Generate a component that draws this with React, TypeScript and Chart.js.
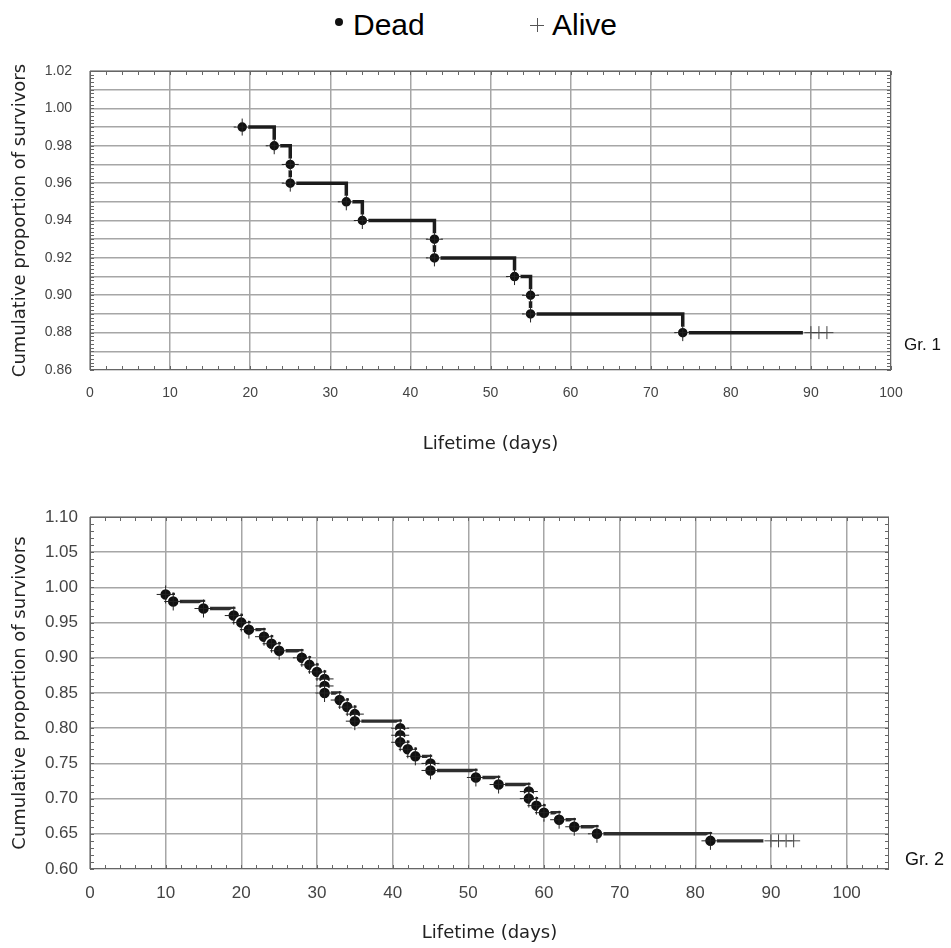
import React, { useEffect, useRef } from 'react';
import { Chart, registerables } from 'chart.js';

Chart.register(...registerables);

// ---------- Data ----------
// Group 1
const gr1DeathDays = [19, 23, 25, 25, 32, 34, 43, 43, 53, 55, 55, 74];
const gr1DeathSurvival = [0.99, 0.98, 0.97, 0.96, 0.95, 0.94, 0.93, 0.92, 0.91, 0.9, 0.89, 0.88];
const gr1CensoredDays = [90, 91, 92];
const gr1CurveEndDay = 89;

// Group 2
const gr2DeathDays = [10, 11, 15, 19, 20, 21, 23, 24, 25, 28, 29, 30, 31, 31, 31, 33, 34, 35, 35, 41, 41, 41, 42, 43, 45, 45, 51, 54, 58, 58, 59, 60, 62, 64, 67, 82];
const gr2DeathSurvival = [0.99, 0.98, 0.97, 0.96, 0.95, 0.94, 0.93, 0.92, 0.91, 0.9, 0.89, 0.88, 0.87, 0.86, 0.85, 0.84, 0.83, 0.82, 0.81, 0.8, 0.79, 0.78, 0.77, 0.76, 0.75, 0.74, 0.73, 0.72, 0.71, 0.7, 0.69, 0.68, 0.67, 0.66, 0.65, 0.64];
const gr2CensoredDays = [90, 91, 92, 93];
const gr2CurveEndDay = 89;

const legendLabels = ['Dead', 'Alive'];
const groupLabels = ['Gr. 1', 'Gr. 2'];
const xAxisTitle = 'Lifetime (days)';
const yAxisTitle = 'Cumulative proportion of survivors';

// ---------- Plugin: frame + small inward minor ticks ----------
const framePlugin: any = {
  id: 'frame',
  beforeDatasetsDraw(chart: any, _args: any, opts: any) {
    const { ctx, chartArea: a, scales } = chart;
    const x = scales.x;
    const y = scales.y;
    ctx.save();
    ctx.strokeStyle = opts.color || '#666';
    ctx.lineWidth = 1;
    ctx.strokeRect(a.left + 0.5, a.top + 0.5, a.right - a.left - 1, a.bottom - a.top - 1);
    ctx.beginPath();
    const L = opts.len || 4;
    const nx = Math.floor((x.max - x.min) / opts.xStep + 1e-6);
    for (let i = 0; i <= nx; i++) {
      const v = x.min + i * opts.xStep;
      const px = Math.round(x.getPixelForValue(v)) + 0.5;
      ctx.moveTo(px, a.bottom);
      ctx.lineTo(px, a.bottom - L);
      ctx.moveTo(px, a.top);
      ctx.lineTo(px, a.top + L);
    }
    const ny = Math.floor((y.max - y.min) / opts.yStep + 1e-6);
    for (let i = 0; i <= ny; i++) {
      const v = y.min + i * opts.yStep;
      const py = Math.round(y.getPixelForValue(v)) + 0.5;
      ctx.moveTo(a.left, py);
      ctx.lineTo(a.left + L, py);
      ctx.moveTo(a.right, py);
      ctx.lineTo(a.right - L, py);
    }
    ctx.stroke();
    ctx.restore();
  },
};

type Params = {
  deathDays: number[];
  deathSurv: number[];
  censoredDays: number[];
  curveEnd: number;
  xMax: number;
  yMin: number;
  yMax: number;
  yStep: number;
  yLabelEvery: number;
  yMinor: number;
  tickSize: number;
  yTickPad: number;
  xTickPad: number;
  padding: { left: number; right: number; top: number; bottom: number };
  xAxisH: number;
  lineColor: string;
  lineWidth: number;
  dotR: number;
  aliveR: number;
};

function buildConfig(p: Params): any {
  const last = p.deathSurv[p.deathSurv.length - 1];
  const curve = p.deathDays
    .map((d, i) => ({ x: d, y: p.deathSurv[i] }))
    .concat([{ x: p.curveEnd, y: last }]);
  const deaths = p.deathDays.map((d, i) => ({ x: d, y: p.deathSurv[i] }));
  const alive = p.censoredDays.map((d) => ({ x: d, y: last }));
  const gridColor = '#a6a6a6';
  const tickFont = { family: 'Liberation Sans, Arial, sans-serif', size: p.tickSize };
  const titleFont = { family: 'DejaVu Sans, sans-serif', size: 18 };

  return {
    type: 'scatter',
    data: {
      datasets: [
        {
          label: 'curve',
          data: curve,
          showLine: true,
          stepped: 'before',
          borderColor: p.lineColor,
          borderWidth: p.lineWidth,
          pointRadius: 0,
          fill: false,
          order: 4,
        },
        {
          label: legendLabels[0],
          data: deaths,
          pointStyle: 'circle',
          pointRadius: p.dotR,
          pointBackgroundColor: '#111',
          pointBorderColor: '#ffffff',
          pointBorderWidth: 1.5,
          showLine: false,
          order: 3,
        },
        {
          label: 'death marks',
          data: deaths,
          pointStyle: 'cross',
          pointRadius: p.dotR + 3,
          pointBorderColor: '#222',
          pointBorderWidth: 1,
          showLine: false,
          order: 2,
        },
        {
          label: legendLabels[1],
          data: alive,
          pointStyle: 'cross',
          pointRadius: p.aliveR,
          pointBorderColor: '#444',
          pointBorderWidth: 1,
          showLine: false,
          order: 1,
        },
      ],
    },
    options: {
      responsive: false,
      animation: false,
      events: [],
      layout: { padding: p.padding },
      plugins: {
        legend: { display: false },
        tooltip: { enabled: false },
        frame: { xStep: 2, yStep: p.yMinor, len: 4, color: '#666' },
      },
      scales: {
        x: {
          type: 'linear',
          min: 0,
          max: p.xMax,
          bounds: 'data',
          afterFit: (s: any) => {
            s.height = p.xAxisH;
          },
          ticks: {
            stepSize: 10,
            includeBounds: false,
            autoSkip: false,
            maxRotation: 0,
            font: tickFont,
            color: '#444',
            padding: p.xTickPad,
          },
          grid: { color: gridColor, lineWidth: 1.5, drawTicks: false },
          border: { display: false },
          title: {
            display: true,
            text: xAxisTitle,
            font: titleFont,
            color: '#222',
            padding: { top: 0, bottom: 0 },
          },
        },
        y: {
          type: 'linear',
          min: p.yMin,
          max: p.yMax,
          bounds: 'data',
          afterFit: (s: any) => {
            s.width = 90;
          },
          ticks: {
            stepSize: p.yStep,
            autoSkip: false,
            font: tickFont,
            color: '#444',
            padding: p.yTickPad,
            callback: (v: any) => {
              const k = Math.round(Number(v) / p.yStep);
              return k % p.yLabelEvery === 0 ? Number(v).toFixed(2) : '';
            },
          },
          grid: { color: gridColor, lineWidth: 1.5, drawTicks: false },
          border: { display: false },
          title: {
            display: true,
            text: yAxisTitle,
            font: titleFont,
            color: '#222',
            padding: { top: 10, bottom: 0 },
          },
        },
      },
    },
    plugins: [framePlugin],
  };
}

function KMChart(props: { params: Params; top: number; height: number }) {
  const ref = useRef<HTMLCanvasElement>(null);
  useEffect(() => {
    const chart = new Chart(ref.current as HTMLCanvasElement, buildConfig(props.params));
    return () => chart.destroy();
  }, []);
  return (
    <canvas
      ref={ref}
      width={951}
      height={props.height}
      style={{ position: 'absolute', left: 0, top: props.top, width: 951, height: props.height }}
    />
  );
}

const gr1Params: Params = {
  deathDays: gr1DeathDays,
  deathSurv: gr1DeathSurvival,
  censoredDays: gr1CensoredDays,
  curveEnd: gr1CurveEndDay,
  xMax: 100,
  yMin: 0.86,
  yMax: 1.02,
  yStep: 0.01,
  yLabelEvery: 2,
  yMinor: 0.002,
  tickSize: 14,
  yTickPad: 18,
  xTickPad: 15,
  padding: { left: 0, right: 60, top: 31, bottom: 15 },
  xAxisH: 85,
  lineColor: '#1c1c1c',
  lineWidth: 3.5,
  dotR: 5.5,
  aliveR: 6.5,
};

const gr2Params: Params = {
  deathDays: gr2DeathDays,
  deathSurv: gr2DeathSurvival,
  censoredDays: gr2CensoredDays,
  curveEnd: gr2CurveEndDay,
  xMax: 105.6,
  yMin: 0.6,
  yMax: 1.1,
  yStep: 0.05,
  yLabelEvery: 1,
  yMinor: 0.01,
  tickSize: 17,
  yTickPad: 12,
  xTickPad: 14,
  padding: { left: 0, right: 62, top: 47, bottom: 4 },
  xAxisH: 75,
  lineColor: '#2e2e2e',
  lineWidth: 3.4,
  dotR: 6,
  aliveR: 6.5,
};

const textFont = 'Liberation Sans, Arial, sans-serif';

export default function App() {
  return (
    <div
      style={{
        position: 'absolute',
        left: 0,
        top: 0,
        width: 951,
        height: 948,
        overflow: 'hidden',
        background: '#fff',
      }}
    >
      {/* Legend */}
      <div
        style={{
          position: 'absolute',
          left: 335,
          top: 17.5,
          width: 8,
          height: 8,
          borderRadius: '50%',
          background: '#111',
        }}
      />
      <div
        style={{
          position: 'absolute',
          left: 353,
          top: 9.6,
          font: `30px ${textFont}`,
          lineHeight: '30px',
          color: '#000',
          whiteSpace: 'nowrap',
        }}
      >
        {legendLabels[0]}
      </div>
      <div style={{ position: 'absolute', left: 530, top: 25, width: 14, height: 1, background: '#555' }} />
      <div style={{ position: 'absolute', left: 537, top: 18, width: 1, height: 14, background: '#555' }} />
      <div
        style={{
          position: 'absolute',
          left: 552,
          top: 9.6,
          font: `30px ${textFont}`,
          lineHeight: '30px',
          color: '#000',
          whiteSpace: 'nowrap',
        }}
      >
        {legendLabels[1]}
      </div>

      <KMChart params={gr1Params} top={40} height={430} />
      <KMChart params={gr2Params} top={470} height={478} />

      <div
        style={{
          position: 'absolute',
          left: 904,
          top: 335.6,
          font: `17px ${textFont}`,
          lineHeight: '17px',
          color: '#111',
          whiteSpace: 'nowrap',
        }}
      >
        {groupLabels[0]}
      </div>
      <div
        style={{
          position: 'absolute',
          left: 905,
          top: 849.8,
          font: `18px ${textFont}`,
          lineHeight: '18px',
          color: '#111',
          whiteSpace: 'nowrap',
        }}
      >
        {groupLabels[1]}
      </div>
    </div>
  );
}
